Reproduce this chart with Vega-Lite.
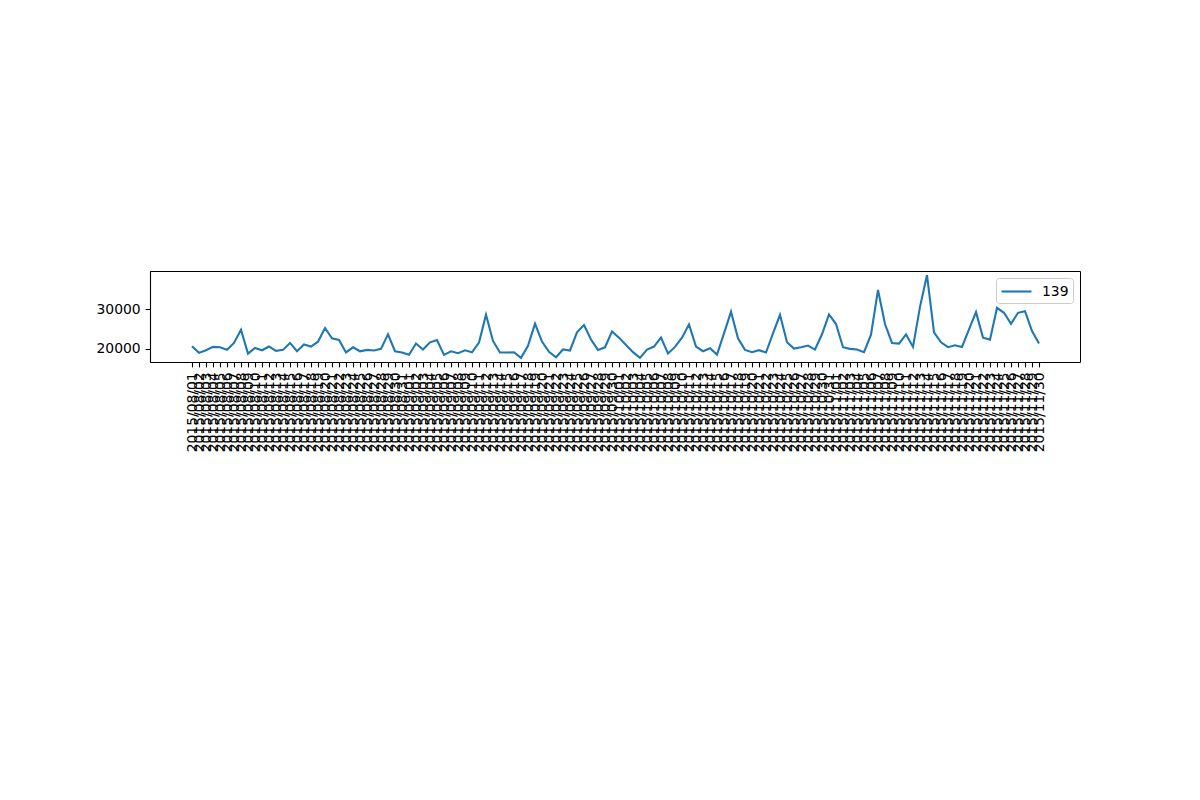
{
  "$schema": "https://vega.github.io/schema/vega-lite/v6.json",
  "autosize": {"type": "none"},
  "padding": {"left": 150, "top": 271, "right": 120, "bottom": 438},
  "width": 930,
  "height": 91,
  "config": {
    "view": {"stroke": "black", "strokeWidth": 1},
    "font": "DejaVu Sans"
  },
  "data": {
    "values": [
      {"date": "2015/08/01", "value": 20675, "series": "139"},
      {"date": "2015/08/02", "value": 19000, "series": "139"},
      {"date": "2015/08/03", "value": 19670, "series": "139"},
      {"date": "2015/08/04", "value": 20500, "series": "139"},
      {"date": "2015/08/05", "value": 20400, "series": "139"},
      {"date": "2015/08/06", "value": 19800, "series": "139"},
      {"date": "2015/08/07", "value": 21500, "series": "139"},
      {"date": "2015/08/08", "value": 24800, "series": "139"},
      {"date": "2015/08/09", "value": 18800, "series": "139"},
      {"date": "2015/08/10", "value": 20250, "series": "139"},
      {"date": "2015/08/11", "value": 19650, "series": "139"},
      {"date": "2015/08/12", "value": 20600, "series": "139"},
      {"date": "2015/08/13", "value": 19500, "series": "139"},
      {"date": "2015/08/14", "value": 19750, "series": "139"},
      {"date": "2015/08/15", "value": 21500, "series": "139"},
      {"date": "2015/08/16", "value": 19400, "series": "139"},
      {"date": "2015/08/17", "value": 21100, "series": "139"},
      {"date": "2015/08/18", "value": 20600, "series": "139"},
      {"date": "2015/08/19", "value": 21800, "series": "139"},
      {"date": "2015/08/20", "value": 25250, "series": "139"},
      {"date": "2015/08/21", "value": 22650, "series": "139"},
      {"date": "2015/08/22", "value": 22250, "series": "139"},
      {"date": "2015/08/23", "value": 19100, "series": "139"},
      {"date": "2015/08/24", "value": 20400, "series": "139"},
      {"date": "2015/08/25", "value": 19400, "series": "139"},
      {"date": "2015/08/26", "value": 19750, "series": "139"},
      {"date": "2015/08/27", "value": 19600, "series": "139"},
      {"date": "2015/08/28", "value": 20000, "series": "139"},
      {"date": "2015/08/29", "value": 23650, "series": "139"},
      {"date": "2015/08/30", "value": 19400, "series": "139"},
      {"date": "2015/08/31", "value": 19100, "series": "139"},
      {"date": "2015/09/01", "value": 18500, "series": "139"},
      {"date": "2015/09/02", "value": 21350, "series": "139"},
      {"date": "2015/09/03", "value": 19850, "series": "139"},
      {"date": "2015/09/04", "value": 21650, "series": "139"},
      {"date": "2015/09/05", "value": 22250, "series": "139"},
      {"date": "2015/09/06", "value": 18500, "series": "139"},
      {"date": "2015/09/07", "value": 19400, "series": "139"},
      {"date": "2015/09/08", "value": 18900, "series": "139"},
      {"date": "2015/09/09", "value": 19650, "series": "139"},
      {"date": "2015/09/10", "value": 19150, "series": "139"},
      {"date": "2015/09/11", "value": 21600, "series": "139"},
      {"date": "2015/09/12", "value": 28600, "series": "139"},
      {"date": "2015/09/13", "value": 22000, "series": "139"},
      {"date": "2015/09/14", "value": 19100, "series": "139"},
      {"date": "2015/09/15", "value": 19100, "series": "139"},
      {"date": "2015/09/16", "value": 19150, "series": "139"},
      {"date": "2015/09/17", "value": 17750, "series": "139"},
      {"date": "2015/09/18", "value": 20800, "series": "139"},
      {"date": "2015/09/19", "value": 26350, "series": "139"},
      {"date": "2015/09/20", "value": 21850, "series": "139"},
      {"date": "2015/09/21", "value": 19250, "series": "139"},
      {"date": "2015/09/22", "value": 17900, "series": "139"},
      {"date": "2015/09/23", "value": 19850, "series": "139"},
      {"date": "2015/09/24", "value": 19600, "series": "139"},
      {"date": "2015/09/25", "value": 24150, "series": "139"},
      {"date": "2015/09/26", "value": 26000, "series": "139"},
      {"date": "2015/09/27", "value": 22350, "series": "139"},
      {"date": "2015/09/28", "value": 19750, "series": "139"},
      {"date": "2015/09/29", "value": 20400, "series": "139"},
      {"date": "2015/09/30", "value": 24400, "series": "139"},
      {"date": "2015/10/01", "value": 22830, "series": "139"},
      {"date": "2015/10/02", "value": 21000, "series": "139"},
      {"date": "2015/10/03", "value": 19170, "series": "139"},
      {"date": "2015/10/04", "value": 17750, "series": "139"},
      {"date": "2015/10/05", "value": 19830, "series": "139"},
      {"date": "2015/10/06", "value": 20580, "series": "139"},
      {"date": "2015/10/07", "value": 22830, "series": "139"},
      {"date": "2015/10/08", "value": 18830, "series": "139"},
      {"date": "2015/10/09", "value": 20500, "series": "139"},
      {"date": "2015/10/10", "value": 22830, "series": "139"},
      {"date": "2015/10/11", "value": 26170, "series": "139"},
      {"date": "2015/10/12", "value": 20580, "series": "139"},
      {"date": "2015/10/13", "value": 19420, "series": "139"},
      {"date": "2015/10/14", "value": 20170, "series": "139"},
      {"date": "2015/10/15", "value": 18580, "series": "139"},
      {"date": "2015/10/16", "value": 23920, "series": "139"},
      {"date": "2015/10/17", "value": 29330, "series": "139"},
      {"date": "2015/10/18", "value": 22670, "series": "139"},
      {"date": "2015/10/19", "value": 19750, "series": "139"},
      {"date": "2015/10/20", "value": 19170, "series": "139"},
      {"date": "2015/10/21", "value": 19670, "series": "139"},
      {"date": "2015/10/22", "value": 19080, "series": "139"},
      {"date": "2015/10/23", "value": 23920, "series": "139"},
      {"date": "2015/10/24", "value": 28580, "series": "139"},
      {"date": "2015/10/25", "value": 21670, "series": "139"},
      {"date": "2015/10/26", "value": 20080, "series": "139"},
      {"date": "2015/10/27", "value": 20420, "series": "139"},
      {"date": "2015/10/28", "value": 20830, "series": "139"},
      {"date": "2015/10/29", "value": 19830, "series": "139"},
      {"date": "2015/10/30", "value": 23670, "series": "139"},
      {"date": "2015/10/31", "value": 28670, "series": "139"},
      {"date": "2015/11/01", "value": 26250, "series": "139"},
      {"date": "2015/11/02", "value": 20420, "series": "139"},
      {"date": "2015/11/03", "value": 20000, "series": "139"},
      {"date": "2015/11/04", "value": 19830, "series": "139"},
      {"date": "2015/11/05", "value": 19170, "series": "139"},
      {"date": "2015/11/06", "value": 23580, "series": "139"},
      {"date": "2015/11/07", "value": 34830, "series": "139"},
      {"date": "2015/11/08", "value": 26250, "series": "139"},
      {"date": "2015/11/09", "value": 21500, "series": "139"},
      {"date": "2015/11/10", "value": 21330, "series": "139"},
      {"date": "2015/11/11", "value": 23670, "series": "139"},
      {"date": "2015/11/12", "value": 20500, "series": "139"},
      {"date": "2015/11/13", "value": 30580, "series": "139"},
      {"date": "2015/11/14", "value": 38580, "series": "139"},
      {"date": "2015/11/15", "value": 24170, "series": "139"},
      {"date": "2015/11/16", "value": 21670, "series": "139"},
      {"date": "2015/11/17", "value": 20420, "series": "139"},
      {"date": "2015/11/18", "value": 20920, "series": "139"},
      {"date": "2015/11/19", "value": 20500, "series": "139"},
      {"date": "2015/11/20", "value": 24920, "series": "139"},
      {"date": "2015/11/21", "value": 29250, "series": "139"},
      {"date": "2015/11/22", "value": 22830, "series": "139"},
      {"date": "2015/11/23", "value": 22330, "series": "139"},
      {"date": "2015/11/24", "value": 30330, "series": "139"},
      {"date": "2015/11/25", "value": 29080, "series": "139"},
      {"date": "2015/11/26", "value": 26330, "series": "139"},
      {"date": "2015/11/27", "value": 29080, "series": "139"},
      {"date": "2015/11/28", "value": 29500, "series": "139"},
      {"date": "2015/11/29", "value": 24500, "series": "139"},
      {"date": "2015/11/30", "value": 21330, "series": "139"}
    ]
  },
  "mark": {"type": "line", "strokeWidth": 2.1},
  "encoding": {
    "x": {
      "field": "date",
      "type": "ordinal",
      "sort": null,
      "scale": {"type": "point", "padding": 0, "range": [42, 889]},
      "axis": {
        "title": null,
        "labelAngle": -90,
        "labelFontSize": 13.9,
        "labelColor": "black",
        "labelOverlap": false,
        "labelPadding": 4.9,
        "tickSize": 4.9,
        "tickColor": "black",
        "tickWidth": 1.1,
        "domainColor": "black",
        "domainWidth": 1.1,
        "grid": false
      }
    },
    "y": {
      "field": "value",
      "type": "quantitative",
      "scale": {"domain": [16700, 39600], "nice": false, "zero": false},
      "axis": {
        "title": null,
        "values": [20000, 30000],
        "format": "d",
        "labelFontSize": 13.9,
        "labelColor": "black",
        "labelPadding": 4.9,
        "tickSize": 4.9,
        "tickColor": "black",
        "tickWidth": 1.1,
        "domainColor": "black",
        "domainWidth": 1.1,
        "grid": false
      }
    },
    "color": {
      "field": "series",
      "type": "nominal",
      "scale": {"range": ["#1f77b4"]},
      "legend": {
        "title": null,
        "orient": "top-right",
        "offset": 7,
        "symbolType": "M-1,0H2.75",
        "symbolSize": 256,
        "symbolStrokeWidth": 2.1,
        "labelFontSize": 13.9,
        "labelColor": "black",
        "labelOffset": 23,
        "padding": 4,
        "fillColor": "white",
        "strokeColor": "#cccccc",
        "cornerRadius": 3
      }
    }
  }
}
